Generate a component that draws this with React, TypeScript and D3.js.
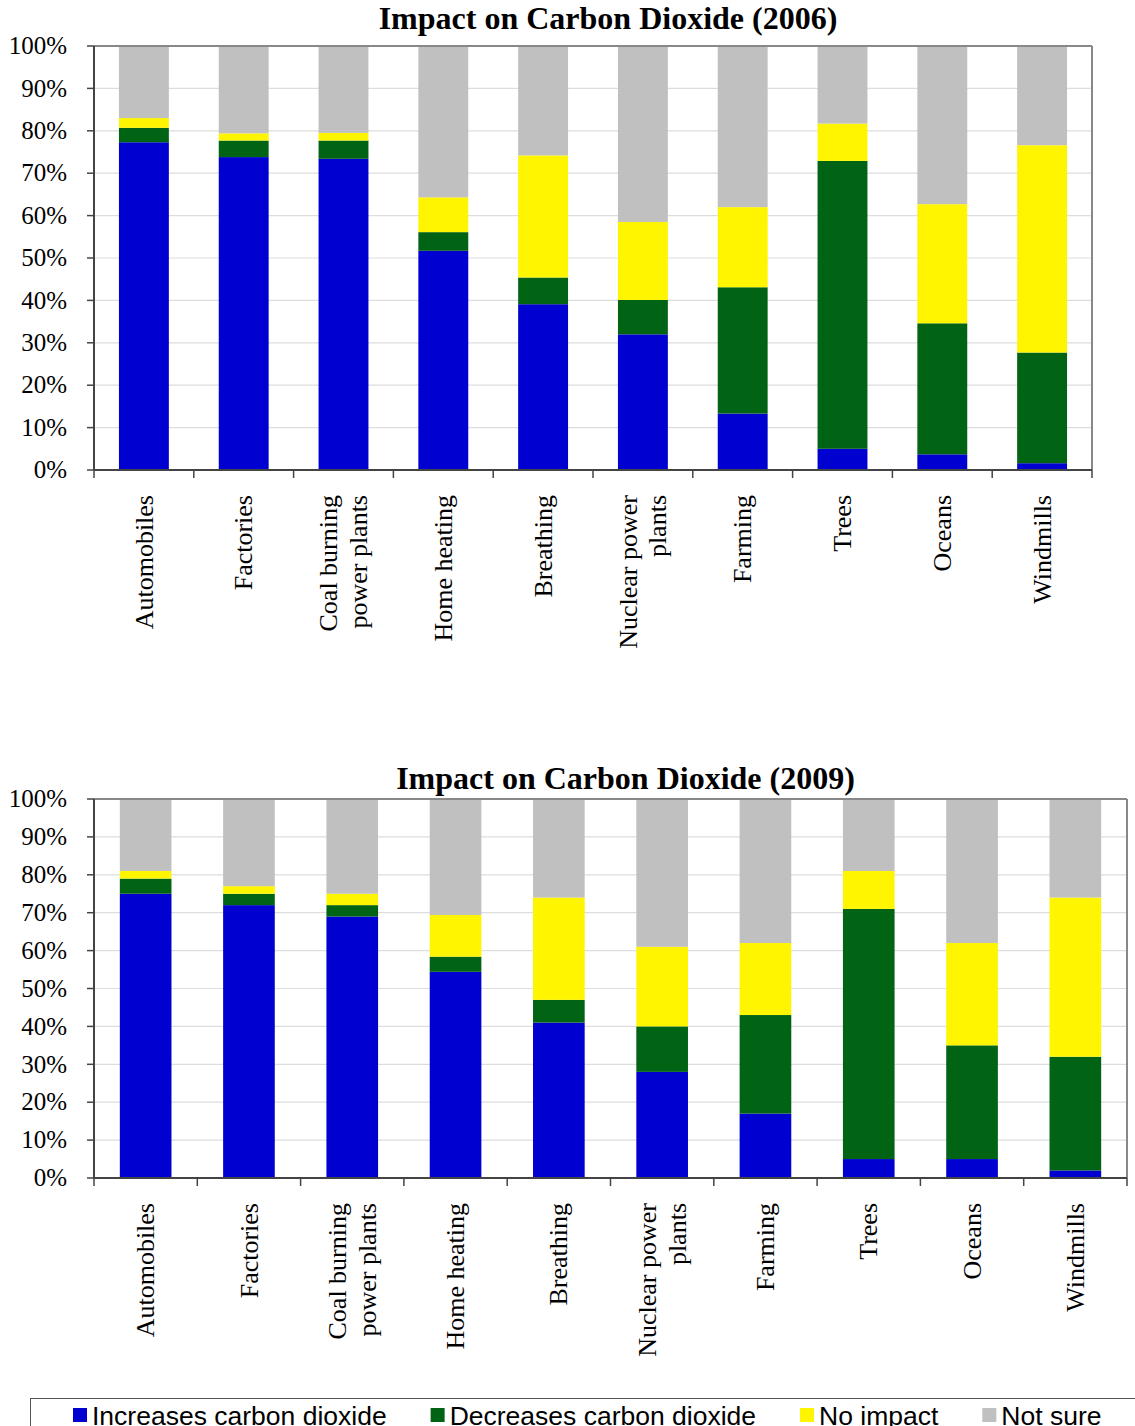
import React, { useRef, useEffect } from 'react';
import * as d3 from 'd3';

const categories = [
  'Automobiles',
  'Factories',
  'Coal burning\npower plants',
  'Home heating',
  'Breathing',
  'Nuclear power\nplants',
  'Farming',
  'Trees',
  'Oceans',
  'Windmills',
];

const seriesNames = ['Increases carbon dioxide', 'Decreases carbon dioxide', 'No impact', 'Not sure'];
const seriesColors = ['#0000D0', '#006414', '#FFF500', '#C0C0C0'];

// 2006 survey (% of respondents)
const increases2006 = [77.3, 73.8, 73.4, 51.7, 39.1, 32.0, 13.3, 5.0, 3.7, 1.6];
const decreases2006 = [3.4, 3.9, 4.3, 4.4, 6.3, 8.1, 29.8, 67.9, 30.9, 26.1];
const noImpact2006 = [2.3, 1.7, 1.8, 8.2, 28.8, 18.4, 18.9, 8.8, 28.1, 48.9];
const notSure2006 = [17.0, 20.6, 20.5, 35.7, 25.8, 41.5, 38.0, 18.3, 37.3, 23.4];

// 2009 survey
const increases2009 = [75, 72, 69, 54.4, 41, 28, 17, 5, 5, 2];
const decreases2009 = [4, 3, 3, 4, 6, 12, 26, 66, 30, 30];
const noImpact2009 = [2, 2, 3, 11, 27, 21, 19, 10, 27, 42];
const notSure2009 = [19, 23, 25, 30.6, 26, 39, 38, 19, 38, 26];

const yTicks = [0, 10, 20, 30, 40, 50, 60, 70, 80, 90, 100];

const W = 1135;
const H = 1426;
const SERIF = '"Liberation Serif", "Times New Roman", serif';
const SANS = '"Liberation Sans", Arial, sans-serif';

type Box = { left: number; right: number; top: number; bottom: number; titleGap: number };

function drawChart(
  svg: d3.Selection<SVGSVGElement, unknown, null, undefined>,
  title: string,
  series: number[][],
  box: Box
) {
  const g = svg.append('g');

  const x = d3.scaleBand<string>()
    .domain(categories)
    .range([box.left, box.right])
    .paddingInner(0.5)
    .paddingOuter(0.25);
  const y = d3.scaleLinear().domain([0, 100]).range([box.bottom, box.top]);
  const step = x.step();

  // gridlines
  g.selectAll('.grid')
    .data(yTicks.filter(t => t > 0 && t < 100))
    .enter()
    .append('line')
    .attr('x1', box.left)
    .attr('x2', box.right)
    .attr('y1', d => y(d))
    .attr('y2', d => y(d))
    .attr('stroke', '#DDDDDD')
    .attr('stroke-width', 1.2);

  // stacked bars
  const rows = categories.map((c, i) => {
    const r: any = { cat: c };
    seriesNames.forEach((s, k) => (r[s] = series[k][i]));
    return r;
  });
  const stacked = d3.stack<any>().keys(seriesNames)(rows);

  g.selectAll('.layer')
    .data(stacked)
    .enter()
    .append('g')
    .attr('fill', (_, k) => seriesColors[k])
    .selectAll('rect')
    .data(d => d)
    .enter()
    .append('rect')
    .attr('x', d => x(d.data.cat)!)
    .attr('width', x.bandwidth())
    .attr('y', d => y(d[1]))
    .attr('height', d => y(d[0]) - y(d[1]));

  // frame: top and right in gray
  g.append('line')
    .attr('x1', box.left).attr('x2', box.right)
    .attr('y1', box.top).attr('y2', box.top)
    .attr('stroke', '#888').attr('stroke-width', 2);
  g.append('line')
    .attr('x1', box.right).attr('x2', box.right)
    .attr('y1', box.top).attr('y2', box.bottom)
    .attr('stroke', '#888').attr('stroke-width', 2);

  // y axis
  g.append('line')
    .attr('x1', box.left).attr('x2', box.left)
    .attr('y1', box.top).attr('y2', box.bottom)
    .attr('stroke', '#444').attr('stroke-width', 2);
  g.selectAll('.ytick')
    .data(yTicks)
    .enter()
    .append('line')
    .attr('x1', box.left - 7)
    .attr('x2', box.left)
    .attr('y1', d => y(d))
    .attr('y2', d => y(d))
    .attr('stroke', '#444')
    .attr('stroke-width', 1.5);
  g.selectAll('.ylab')
    .data(yTicks)
    .enter()
    .append('text')
    .attr('x', box.left - 27)
    .attr('y', d => y(d))
    .attr('dy', '0.33em')
    .attr('text-anchor', 'end')
    .style('font-family', SERIF)
    .style('font-size', '25px')
    .attr('fill', '#000')
    .text(d => `${d}%`);

  // x axis
  g.append('line')
    .attr('x1', box.left).attr('x2', box.right)
    .attr('y1', box.bottom).attr('y2', box.bottom)
    .attr('stroke', '#444').attr('stroke-width', 2);
  g.selectAll('.xtick')
    .data(d3.range(categories.length + 1))
    .enter()
    .append('line')
    .attr('x1', i => box.left + i * step)
    .attr('x2', i => box.left + i * step)
    .attr('y1', box.bottom)
    .attr('y2', box.bottom + 8)
    .attr('stroke', '#444')
    .attr('stroke-width', 1.5);

  // rotated category labels
  categories.forEach(c => {
    const lines = c.split('\n');
    const cx = x(c)! + x.bandwidth() / 2;
    const t = g.append('text')
      .attr('transform', `translate(${cx},${box.bottom + 25}) rotate(-90)`)
      .attr('text-anchor', 'end')
      .style('font-family', SERIF)
      .style('font-size', '26px')
      .attr('fill', '#000');
    lines.forEach((ln, j) => {
      const off = (j - (lines.length - 1) / 2) * 30 + 8.6;
      t.append('tspan').attr('x', 0).attr('y', off).text(ln);
    });
  });

  // title
  g.append('text')
    .attr('x', (box.left + box.right) / 2 + 15)
    .attr('y', box.top - box.titleGap)
    .attr('text-anchor', 'middle')
    .style('font-family', SERIF)
    .style('font-size', '32px')
    .style('font-weight', 'bold')
    .attr('fill', '#000')
    .text(title);
}

const App: React.FC = () => {
  const svgRef = useRef<SVGSVGElement>(null);

  useEffect(() => {
    if (!svgRef.current) return;
    const svg = d3.select(svgRef.current);
    svg.selectAll('*').remove();

    svg.append('rect').attr('width', W).attr('height', H).attr('fill', '#fff');

    drawChart(
      svg,
      'Impact on Carbon Dioxide (2006)',
      [increases2006, decreases2006, noImpact2006, notSure2006],
      { left: 94, right: 1092, top: 46, bottom: 470, titleGap: 17 }
    );
    drawChart(
      svg,
      'Impact on Carbon Dioxide (2009)',
      [increases2009, decreases2009, noImpact2009, notSure2009],
      { left: 94, right: 1127, top: 799, bottom: 1178, titleGap: 10 }
    );

    // legend
    const lg = svg.append('g');
    lg.append('rect')
      .attr('x', 30.5)
      .attr('y', 1398.5)
      .attr('width', 1200)
      .attr('height', 100)
      .attr('fill', '#fff')
      .attr('stroke', '#555')
      .attr('stroke-width', 1);
    let cursor = 73;
    seriesNames.forEach((s, k) => {
      lg.append('rect')
        .attr('x', cursor)
        .attr('y', 1408)
        .attr('width', 14)
        .attr('height', 14)
        .attr('fill', seriesColors[k]);
      const txt = lg.append('text')
        .attr('x', cursor + 19)
        .attr('y', 1425)
        .style('font-family', SANS)
        .style('font-size', '26.5px')
        .attr('fill', '#000')
        .text(s);
      const len = (txt.node() as SVGTextElement).getComputedTextLength();
      cursor = cursor + 19 + len + 44;
    });
  }, []);

  return (
    <svg
      ref={svgRef}
      width={W}
      height={H}
      style={{ position: 'absolute', left: 0, top: 0, display: 'block' }}
    />
  );
};

export default App;
